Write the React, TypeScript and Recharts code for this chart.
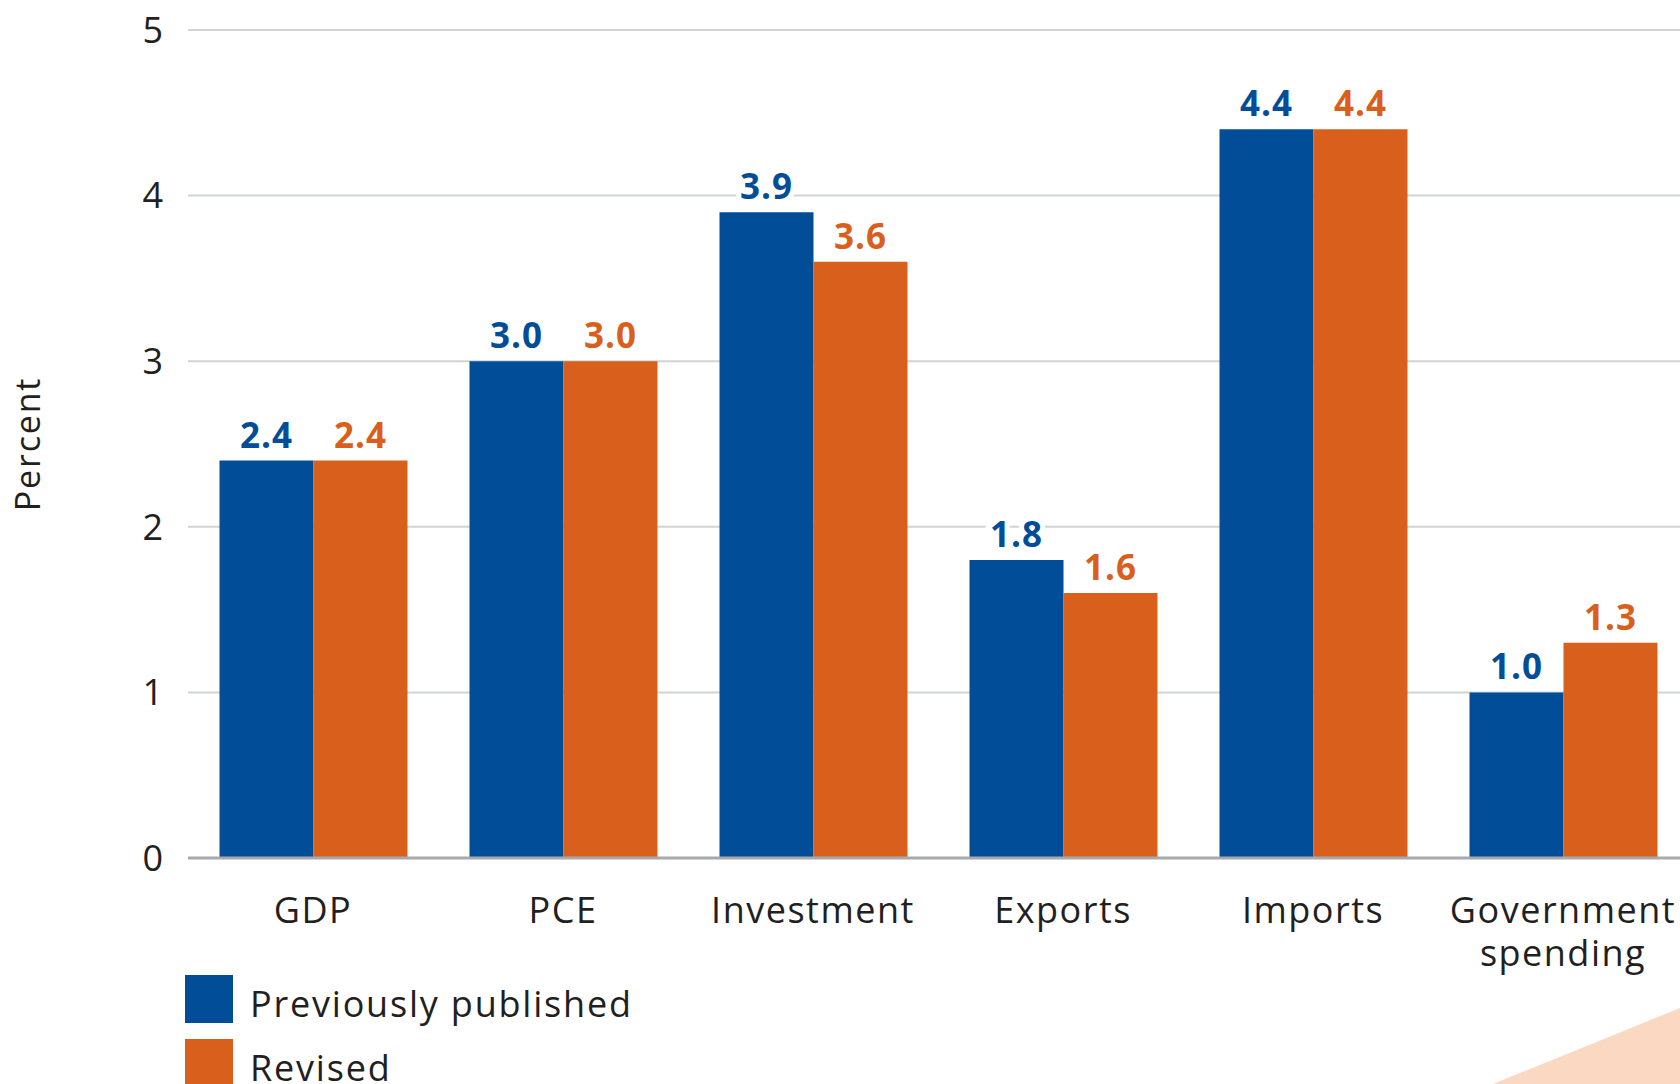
import React from 'react';
import { BarChart, Bar, XAxis, YAxis, CartesianGrid, Legend, LabelList } from 'recharts';

const CATEGORIES = ['GDP', 'PCE', 'Investment', 'Exports', 'Imports', 'Government\nspending'];
const PREVIOUS = [2.4, 3.0, 3.9, 1.8, 4.4, 1.0];
const REVISED = [2.4, 3.0, 3.6, 1.6, 4.4, 1.3];
const Y_TICKS = [0, 1, 2, 3, 4, 5];

const SERIES = [
  { key: 'previous', name: 'Previously published', color: '#024D98' },
  { key: 'revised', name: 'Revised', color: '#D9601C' },
];

const FONT = '"Open Sans", "DejaVu Sans", sans-serif';
const TEXT = '#231F20';

const data = CATEGORIES.map((c, i) => ({
  category: c,
  previous: PREVIOUS[i],
  revised: REVISED[i],
}));

function CategoryTick(props: any) {
  const { x, y, payload } = props;
  const lines = String(payload.value).split('\n');
  return (
    <g transform={`translate(${x},${y})`}>
      {lines.map((line, i) => (
        <text
          key={line}
          x={0}
          y={57 + i * 43}
          textAnchor="middle"
          fill={TEXT}
          fontFamily={FONT}
          fontSize={36}
          letterSpacing={1.5}
        >
          {line}
        </text>
      ))}
    </g>
  );
}

function valueLabel(color: string) {
  return (props: any) => {
    const { x, y, width, value } = props;
    return (
      <text
        x={x + width / 2}
        y={y - 13}
        textAnchor="middle"
        fill={color}
        stroke="#fff"
        strokeWidth={10}
        paintOrder="stroke"
        fontFamily={FONT}
        fontWeight={700}
        fontSize={35}
        letterSpacing={1}
      >
        {Number(value).toFixed(1)}
      </text>
    );
  };
}

function LegendBox() {
  return (
    <div style={{ width: 500, height: 128, fontFamily: FONT }}>
      {SERIES.map((s) => (
        <div key={s.key} style={{ display: 'flex', alignItems: 'center', height: 64 }}>
          <div style={{ width: 48, height: 48, background: s.color, marginBottom: 16 }} />
          <span style={{ marginLeft: 17, fontSize: 36, color: TEXT, letterSpacing: 1.8, marginBottom: 8 }}>
            {s.name}
          </span>
        </div>
      ))}
    </div>
  );
}

function PercentLabel(props: any) {
  const { viewBox } = props;
  const cy = viewBox.y + viewBox.height / 2;
  return (
    <text
      x={27}
      y={cy}
      transform={`rotate(-90, 27, ${cy})`}
      textAnchor="middle"
      dominantBaseline="central"
      fill={TEXT}
      fontFamily={FONT}
      fontSize={34}
      letterSpacing={1.8}
    >
      Percent
    </text>
  );
}

export default function App() {
  return (
    <div style={{ position: 'fixed', left: 0, top: 0, width: 1680, height: 1084, overflow: 'hidden', background: '#fff' }}>
      <BarChart
        width={1688}
        height={1084}
        data={data}
        margin={{ top: 30, right: 0, left: 0, bottom: 0 }}
        barCategoryGap="12.6%"
        barGap={0}
      >
        <CartesianGrid vertical={false} stroke="#D1D3D4" strokeWidth={2} />
        <XAxis
          dataKey="category"
          height={98}
          interval={0}
          tickLine={false}
          axisLine={{ stroke: '#A7A9AC', strokeWidth: 3 }}
          tick={<CategoryTick />}
        />
        <YAxis
          width={188}
          domain={[0, 5]}
          ticks={Y_TICKS}
          axisLine={false}
          tickLine={false}
          tickSize={0}
          tickMargin={25}
          tick={{ fill: TEXT, fontSize: 36, fontFamily: FONT }}
          label={<PercentLabel />}
        />
        <Legend
          verticalAlign="bottom"
          align="left"
          content={<LegendBox />}
          wrapperStyle={{ left: 185, top: 975, bottom: 'auto', width: 500 }}
        />
        {SERIES.map((s) => (
          <Bar key={s.key} dataKey={s.key} name={s.name} fill={s.color} isAnimationActive={false}>
            <LabelList dataKey={s.key} content={valueLabel(s.color)} />
          </Bar>
        ))}
      </BarChart>
      <svg width={1680} height={1084} style={{ position: 'absolute', left: 0, top: 0, pointerEvents: 'none' }}>
        <polygon points="1493,1084 1680,1008 1680,1084" fill="#FAD8C2" />
      </svg>
    </div>
  );
}
